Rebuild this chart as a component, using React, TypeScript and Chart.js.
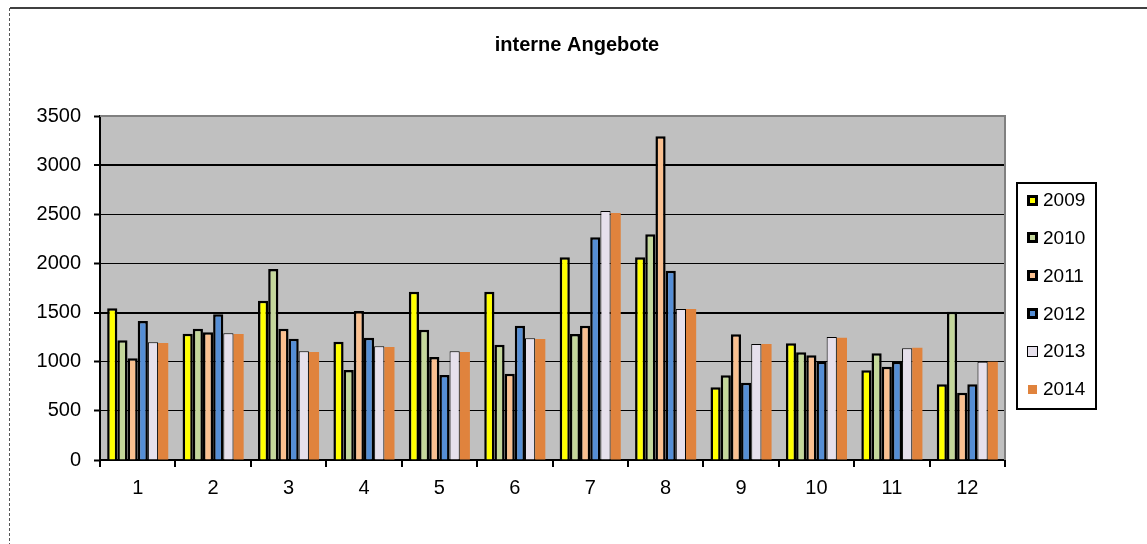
import React, { useEffect, useRef } from "react";
import { Chart, registerables } from "chart.js";

Chart.register(...registerables);

const TITLE = "interne Angebote";
const MONTHS = ["1", "2", "3", "4", "5", "6", "7", "8", "9", "10", "11", "12"];
const YEARS = ["2009", "2010", "2011", "2012", "2013", "2014"];

const S2009 = [1544, 1285, 1621, 1204, 1712, 1712, 2062, 2062, 740, 1187, 913, 770];
const S2010 = [1218, 1336, 1943, 916, 1326, 1173, 1282, 2297, 862, 1096, 1086, 1509];
const S2011 = [1035, 1299, 1336, 1516, 1048, 878, 1367, 3294, 1279, 1065, 949, 685];
const S2012 = [1414, 1482, 1234, 1244, 865, 1367, 2266, 1926, 787, 1000, 1000, 770];
const S2013 = [1198, 1289, 1106, 1157, 1106, 1238, 2534, 1536, 1180, 1252, 1137, 1000];
const S2014 = [1190, 1282, 1099, 1150, 1099, 1231, 2513, 1536, 1180, 1244, 1143, 1000];

const SERIES = [S2009, S2010, S2011, S2012, S2013, S2014];
const COLORS = ["#FFFF00", "#C4D79B", "#FAC090", "#558ED5", "#E6E0EC", "#E0833D"];
const BORDERS = [2.5, 2.5, 2.5, 2.5, 1, 0];

const Y_MAX = 3500;
const Y_STEP = 500;

const FONT = "'Liberation Sans', Arial, sans-serif";

const frame = {
  id: "frame",
  beforeDraw(chart: any) {
    const { ctx, chartArea: a } = chart;
    ctx.save();
    // outer chart border (top solid, left dashed)
    ctx.strokeStyle = "#000";
    ctx.lineWidth = 1.5;
    ctx.beginPath();
    ctx.moveTo(10, 8);
    ctx.lineTo(chart.width, 8);
    ctx.stroke();
    ctx.strokeStyle = "#555";
    ctx.lineWidth = 1;
    ctx.setLineDash([3, 2]);
    ctx.beginPath();
    ctx.moveTo(9.5, 8);
    ctx.lineTo(9.5, chart.height);
    ctx.stroke();
    ctx.setLineDash([]);
    // title
    ctx.fillStyle = "#000";
    ctx.font = `bold 20px ${FONT}`;
    ctx.textAlign = "center";
    ctx.textBaseline = "middle";
    ctx.fillText(TITLE, 577, 45);
    // plot background
    ctx.fillStyle = "#C0C0C0";
    ctx.fillRect(a.left, a.top, a.right - a.left, a.bottom - a.top);
    ctx.restore();
  },
  beforeDatasetsDraw(chart: any) {
    const { ctx, chartArea: a } = chart;
    ctx.save();
    ctx.strokeStyle = "#808080";
    ctx.lineWidth = 2;
    ctx.beginPath();
    ctx.moveTo(a.left, a.top);
    ctx.lineTo(a.right, a.top);
    ctx.lineTo(a.right, a.bottom);
    ctx.stroke();
    ctx.restore();
  },
};

const boxLegend = {
  id: "boxLegend",
  afterDraw(chart: any) {
    const { ctx } = chart;
    const x0 = 1017;
    const y0 = 183;
    const w = 79;
    const h = 226;
    ctx.save();
    ctx.fillStyle = "#fff";
    ctx.fillRect(x0, y0, w, h);
    ctx.strokeStyle = "#000";
    ctx.lineWidth = 2;
    ctx.strokeRect(x0, y0, w, h);
    ctx.font = `19px ${FONT}`;
    ctx.textBaseline = "middle";
    ctx.textAlign = "left";
    chart.data.datasets.forEach((ds: any, i: number) => {
      const cy = 200 + i * 37.8;
      const bw = Math.round(ds.borderWidth);
      if (bw > 0) {
        ctx.fillStyle = "#000";
        ctx.fillRect(1027, Math.round(cy - 5.5), 11, 11);
        ctx.fillStyle = ds.backgroundColor;
        ctx.fillRect(1027 + bw, Math.round(cy - 5.5) + bw, 11 - 2 * bw, 11 - 2 * bw);
      } else {
        ctx.fillStyle = ds.backgroundColor;
        ctx.fillRect(1028, Math.round(cy - 4), 9, 9);
      }
      ctx.fillStyle = "#000";
      ctx.fillText(ds.label, 1043, cy + 1);
    });
    ctx.restore();
  },
};

export default function App() {
  const ref = useRef<HTMLCanvasElement | null>(null);

  useEffect(() => {
    if (!ref.current) return;
    const chart = new Chart(ref.current, {
      type: "bar",
      data: {
        labels: MONTHS,
        datasets: YEARS.map((y, i) => ({
          label: y,
          data: SERIES[i],
          backgroundColor: COLORS[i],
          borderColor: "#000",
          borderWidth: BORDERS[i],
          borderSkipped: "bottom",
          barPercentage: 1,
          categoryPercentage: 0.81,
        })),
      },
      options: {
        animation: false,
        responsive: false,
        maintainAspectRatio: false,
        devicePixelRatio: 1,
        layout: { padding: { top: 116, right: 142, bottom: 0, left: 0 } },
        plugins: {
          legend: { display: false },
          tooltip: { enabled: false },
          title: { display: false },
        },
        scales: {
          x: {
            offset: true,
            grid: {
              display: true,
              drawOnChartArea: false,
              drawTicks: true,
              tickLength: 7,
              color: "#000",
              lineWidth: 2,
              offset: true,
            },
            border: { display: true, color: "#000", width: 2 },
            ticks: {
              color: "#000",
              font: { family: FONT, size: 20 },
              padding: 9,
              maxRotation: 0,
            },
            afterFit(scale: any) {
              scale.height = 84;
            },
          },
          y: {
            min: 0,
            max: Y_MAX,
            grid: {
              color: (c: any) => (c.tick && c.tick.value === Y_MAX ? "rgba(0,0,0,0)" : "#000"),
              lineWidth: (c: any) =>
                c.tick && (c.tick.value === 3000 || c.tick.value === 1500) ? 2 : 1,
              tickColor: "#000",
              tickWidth: 2,
              tickLength: 6,
            },
            border: { display: true, color: "#000", width: 2 },
            ticks: {
              stepSize: Y_STEP,
              color: "#000",
              font: { family: FONT, size: 20 },
              padding: 13,
              callback: (v: any) => String(v),
            },
            afterFit(scale: any) {
              scale.width = 100;
            },
          },
        },
      },
      plugins: [frame, boxLegend],
    });
    return () => chart.destroy();
  }, []);

  return (
    <div style={{ position: "absolute", left: 0, top: 0, width: 1147, height: 544 }}>
      <canvas ref={ref} width={1147} height={544} style={{ width: 1147, height: 544, display: "block" }} />
    </div>
  );
}
